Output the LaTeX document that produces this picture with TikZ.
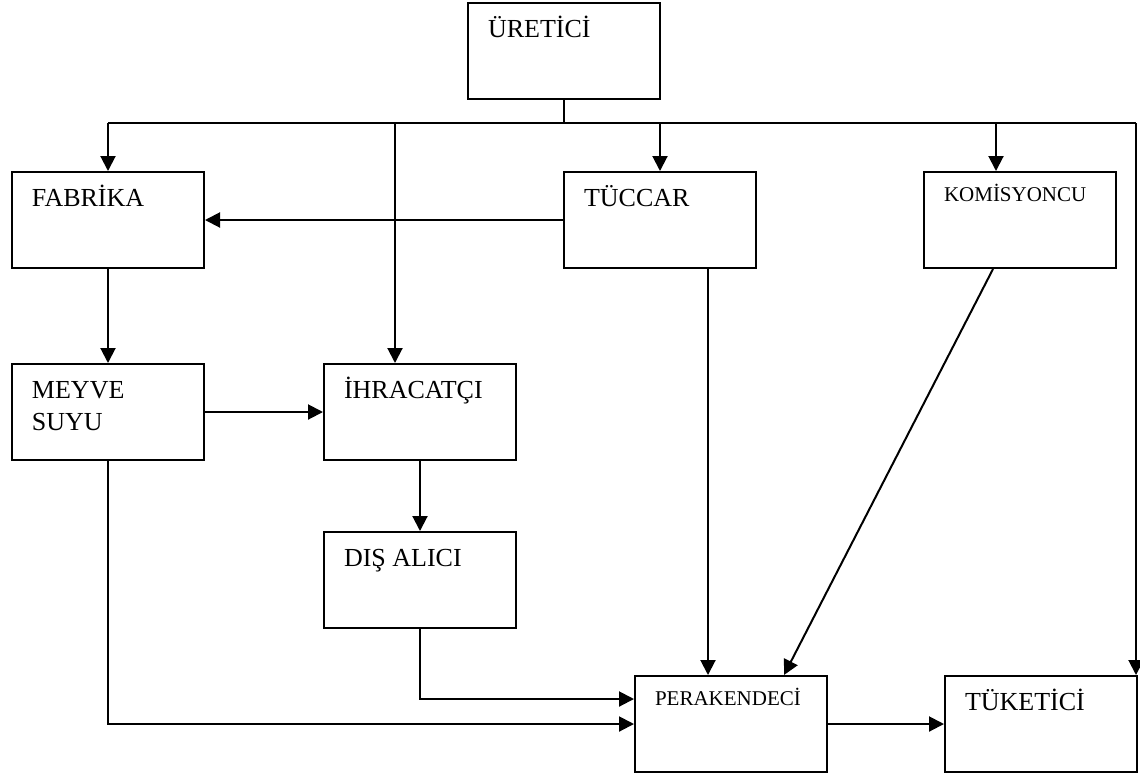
\documentclass[tikz,border=0pt]{standalone}
\usepackage{fontspec}
\setmainfont{Liberation Serif}
\usetikzlibrary{arrows.meta}

\begin{document}
\begin{tikzpicture}[x=0.5pt, y=-0.5pt, line width=1pt,
    >={Triangle[length=7.5pt,width=7.5pt]},
    box/.style={draw, minimum width=96pt, minimum height=48pt, inner sep=0pt},
    lbl/.style={anchor=base west, inner sep=0pt, xshift=10pt, yshift=-17.5pt, align=left},
    big/.style={font=\fontsize{13}{16}\selectfont},
    twolines/.style={big, yshift=-16pt},
    small/.style={font=\fontsize{10.5}{12}\selectfont, yshift=2.5pt}]
            \useasboundingbox (0,0) rectangle (1140,778);
            \foreach \n/\x/\y/\f/\t in {uretici/564/51/big/ÜRETİCİ, fabrika/108/220/big/FABRİKA,
              tuccar/660/220/big/TÜCCAR, komisyoncu/1020/220/small/KOMİSYONCU,
              meyve/108/412/twolines/{MEYVE\\SUYU}, ihracatci/420/412/big/İHRACATÇI,
              disalici/420/580/big/DIŞ ALICI, perakendeci/731/724/small/PERAKENDECİ,
              tuketici/1041/724/big/TÜKETİCİ}
            {
              \node[box, label={[lbl,\f]north west:{\t}}] (\n) at (\x,\y) {};
            }
            % bus under the producer
            \coordinate (bus) at (564,123);
            \coordinate (busL) at (108,123);
            \coordinate (busI) at (395,123);
            \coordinate (busK) at (996,123);
            \coordinate (busR) at (1136,123);
            \draw (uretici.south) -- (bus);
            \draw (busL) -- (busR);
            \draw[->] (busL) -- (fabrika);
            \draw[->] (busI) -- (busI |- ihracatci.north);
            \draw[->] (tuccar |- bus) -- (tuccar);
            \draw[->] (busK) -- (busK |- komisyoncu.north);
            \draw[->] (busR) -- (busR |- tuketici.north);
            % flows between the boxes
            \draw[->] (tuccar) -- (fabrika);
            \draw[->] (fabrika) -- (meyve);
            \draw[->] (meyve) -- (ihracatci);
            \draw[->] (ihracatci) -- (disalici);
            \draw[->] (disalici.south) |- ([yshift=12.5pt]perakendeci.west);
            \draw[->] (meyve.south) |- (perakendeci.west);
            \draw[->] ([xshift=24pt]tuccar.south) -- ([xshift=24pt]tuccar.south |- perakendeci.north);
            \draw[->] ([xshift=-13.5pt]komisyoncu.south) -- ([xshift=26.5pt]perakendeci.north);
            \draw[->] (perakendeci) -- (tuketici);
        \end{tikzpicture}
\end{document}
